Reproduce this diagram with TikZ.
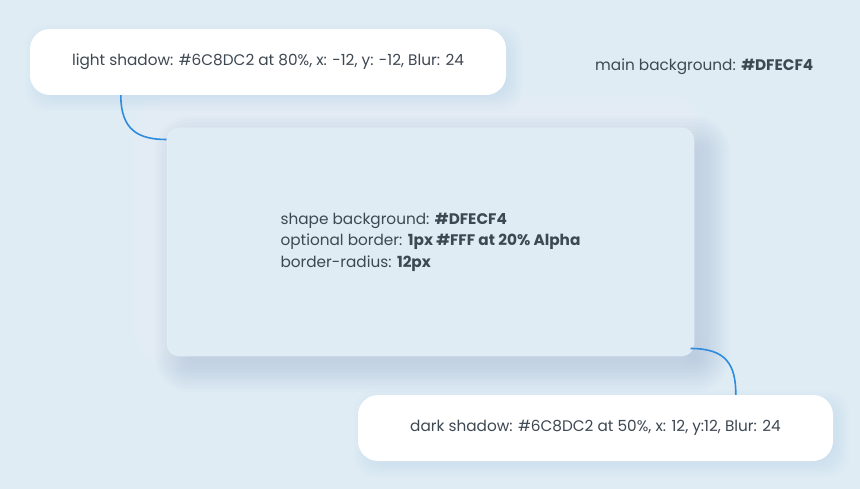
\documentclass[tikz,border=0pt]{standalone}
\usepackage{fontspec}
\setmainfont{Poppins}
\usepackage{tikz}
\usetikzlibrary{positioning}

\definecolor{mainbg}{HTML}{DFECF4}
\definecolor{shadowblue}{HTML}{6C8DC2}
\definecolor{inkgray}{HTML}{3E4852}
\definecolor{linkblue}{HTML}{2E8BE0}

\begin{document}
\begin{tikzpicture}[x=1pt, y=-1pt,
    labelbox/.style={
        rectangle, rounded corners=20pt, fill=white, inner sep=0pt,
        minimum width=476pt, minimum height=66pt,
        text=inkgray, font=\fontsize{15.3}{18}\selectfont
    },
    shapebox/.style={
        rectangle, rounded corners=12pt, fill=mainbg,
        draw=white, draw opacity=0.2, line width=1pt,
        minimum width=527pt, minimum height=228pt,
        text=inkgray, align=left, font=\fontsize{15.3}{21.5}\selectfont
    },
    notetext/.style={text=inkgray, inner sep=0pt, font=\fontsize{15.3}{18}\selectfont},
    link/.style={draw=linkblue, line width=1.6pt}
]
% Page background
\fill[mainbg] (0,0) rectangle (860,489);
\useasboundingbox (0,0) rectangle (860,489);

% Soft shadows of the shape (light up-left, dark down-right)
\foreach \k in {0,...,15}{
    \pgfmathsetmacro\e{-24+48*\k/15}
    \pgfmathsetmacro\r{max(12+\e,0.5)}
    \fill[white, opacity=0.035, rounded corners=\r pt]
        (155-\e,116-\e) rectangle (682+\e,344+\e);
    \fill[shadowblue, opacity=0.028, rounded corners=\r pt]
        (179-\e,140-\e) rectangle (706+\e,368+\e);
}
% Faint shadows of the two label boxes
\foreach \k in {0,...,7}{
    \pgfmathsetmacro\e{-10+20*\k/7}
    \fill[shadowblue, opacity=0.018, rounded corners=20pt]
        (36-\e,35-\e) rectangle (512+\e,101+\e);
    \fill[shadowblue, opacity=0.018, rounded corners=20pt]
        (364-\e,401-\e) rectangle (839+\e,467+\e);
}

% Main shape with its specification
\node[shapebox] (shape) at (430.5,242)
    {shape background: \textbf{\#DFECF4}\\
     optional border: \textbf{1px \#FFF at 20\% Alpha}\\
     border-radius: \textbf{12px}};

% Label boxes
\node[labelbox] (light) at (268,62)
    {light shadow: \#6C8DC2 at 80\%, x: -12, y: -12, Blur: 24};
\node[labelbox, minimum width=475pt] (dark) at (595.5,428)
    {dark shadow: \#6C8DC2 at 50\%, x: 12, y:12, Blur: 24};
\node[notetext, anchor=west] (mainnote) at (595,67)
    {main background: \textbf{\#DFECF4}};

% Connectors
\draw[link] ([xshift=91pt]light.south west)
    .. controls +(0,35) and +(-28,0) .. ([yshift=-12pt]shape.north west);
\draw[link] ([xshift=-4pt,yshift=8pt]shape.south east)
    .. controls +(36,0) and +(0,-30) .. ([xshift=378pt]dark.north west);
\end{tikzpicture}
\end{document}
